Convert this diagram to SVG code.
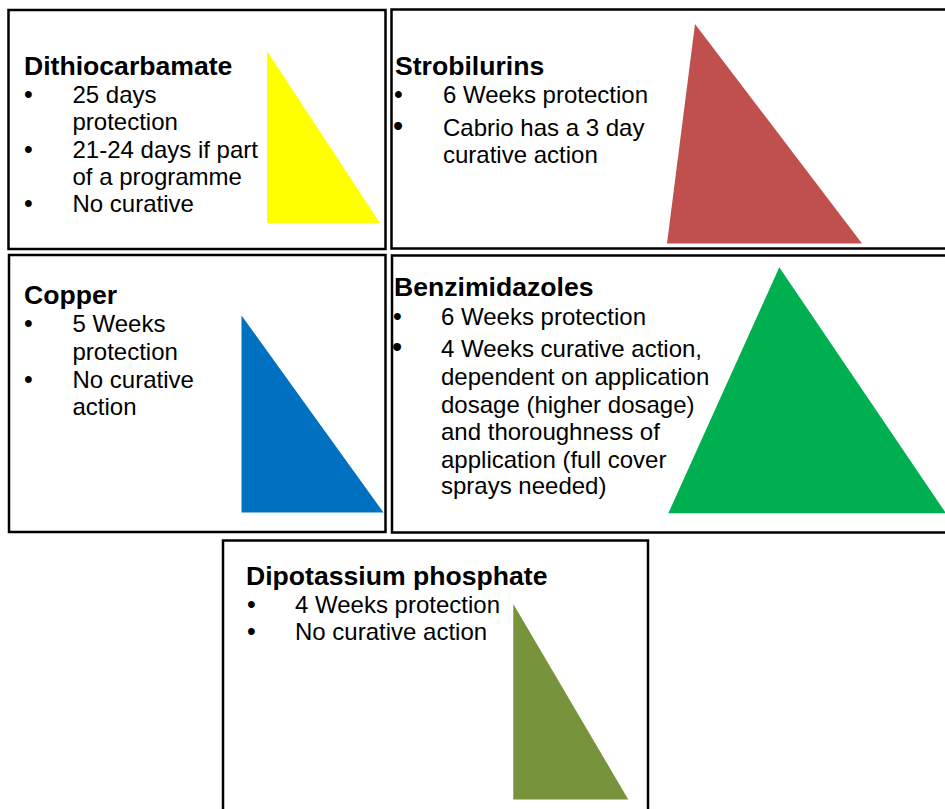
<svg xmlns="http://www.w3.org/2000/svg" width="945" height="809" viewBox="0 0 945 809">
<style>
.box{fill:#ffffff;stroke:#000000;stroke-width:2.5}
.t{font-family:"Liberation Sans",Arial,sans-serif;font-weight:bold;font-size:26.6px;fill:#000}
.b{font-family:"Liberation Sans",Arial,sans-serif;font-size:24px;fill:#000}
.bl{font-family:"Liberation Sans",Arial,sans-serif;font-size:25px;fill:#000}
.bl2{font-family:"Liberation Sans",Arial,sans-serif;font-size:29px;fill:#000}
</style>
<rect x="0" y="0" width="945" height="809" fill="#ffffff"/>
<g id="dithiocarbamate">
<rect class="box" x="8.5" y="10" width="377" height="239"/>
<polygon points="267,51 267,223 380,223" fill="#FFFF00"/>
<text class="t" x="24" y="75">Dithiocarbamate</text>
<text class="bl" x="24" y="103">•</text>
<text class="b" x="72.5" y="103">25 days</text>
<text class="b" x="72.5" y="130.3">protection</text>
<text class="bl" x="24" y="157.6">•</text>
<text class="b" x="72.5" y="157.6">21-24 days if part</text>
<text class="b" x="72.5" y="185">of a programme</text>
<text class="bl" x="24" y="212.3">•</text>
<text class="b" x="72.5" y="212.3">No curative</text>
</g>
<g id="strobilurins">
<rect class="box" x="391.5" y="9.5" width="560" height="239"/>
<polygon points="695,24 667,243.5 862,243.5" fill="#C0504D"/>
<text class="t" x="395" y="75">Strobilurins</text>
<text class="bl" x="394" y="103.3">•</text>
<text class="b" x="443" y="103.3">6 Weeks protection</text>
<text class="bl2" x="393" y="136">•</text>
<text class="b" x="443" y="136">Cabrio has a 3 day</text>
<text class="b" x="443" y="162.7">curative action</text>
</g>
<g id="copper">
<rect class="box" x="9" y="255" width="376.5" height="277"/>
<polygon points="241.5,315.5 241.5,512.5 383.5,512.5" fill="#0070C0"/>
<text class="t" x="24" y="304">Copper</text>
<text class="bl" x="24" y="332.3">•</text>
<text class="b" x="72.5" y="332.3">5 Weeks</text>
<text class="b" x="72.5" y="360">protection</text>
<text class="bl" x="24" y="387.7">•</text>
<text class="b" x="72.5" y="387.7">No curative</text>
<text class="b" x="72.5" y="415">action</text>
</g>
<g id="benzimidazoles">
<rect class="box" x="392" y="255.5" width="560" height="277"/>
<polygon points="779.3,267.3 668.3,513.3 946,513.3" fill="#00B050"/>
<text class="t" x="394" y="296">Benzimidazoles</text>
<text class="bl" x="393" y="325">•</text>
<text class="b" x="441" y="325">6 Weeks protection</text>
<text class="bl2" x="392" y="357.3">•</text>
<text class="b" x="441" y="357.3">4 Weeks curative action,</text>
<text class="b" x="441" y="385">dependent on application</text>
<text class="b" x="441" y="412.7">dosage (higher dosage)</text>
<text class="b" x="441" y="440">and thoroughness of</text>
<text class="b" x="441" y="467.7">application (full cover</text>
<text class="b" x="441" y="494">sprays needed)</text>
</g>
<g id="dipotassium-phosphate">
<rect class="box" x="223" y="540.5" width="425" height="280"/>
<polygon points="513.3,604 513.3,799.5 628.3,799.5" fill="#77933C"/>
<text class="t" x="246" y="585">Dipotassium phosphate</text>
<text class="bl" x="247" y="613.3">•</text>
<text class="b" x="295" y="613.3">4 Weeks protection</text>
<text class="bl" x="247" y="640.3">•</text>
<text class="b" x="295" y="640.3">No curative action</text>
</g>
<g id="connectors"/>
</svg>
